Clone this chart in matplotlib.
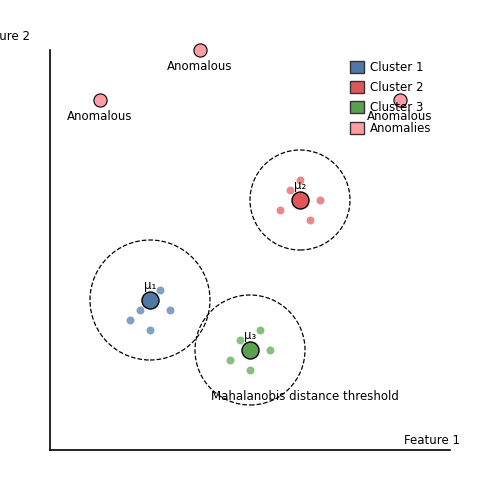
import matplotlib.pyplot as plt
from matplotlib.patches import Circle, Patch

# cluster members
c1_x = [2.2, 1.8, 2.4, 1.6, 2.0]
c1_y = [3.2, 2.8, 2.8, 2.6, 2.4]
c2_x = [5.0, 4.8, 5.4, 4.6, 5.2]
c2_y = [5.4, 5.2, 5.0, 4.8, 4.6]
c3_x = [4.2, 3.8, 4.4, 3.6, 4.0]
c3_y = [2.4, 2.2, 2.0, 1.8, 1.6]

# centroids and threshold radii
cent_x = [2.0, 5.0, 4.0]
cent_y = [3.0, 5.0, 2.0]
radii = [1.2, 1.0, 1.1]
cent_labels = ["μ₁", "μ₂", "μ₃"]

# anomalies
anom_x = [3.0, 1.0, 7.0]
anom_y = [8.0, 7.0, 7.0]

colors = ["#4e79a7", "#e15759", "#59a14f"]
anom_color = "#ff9da7"
fs = 8.5

fig = plt.figure(figsize=(5, 5), dpi=100)
ax = fig.add_axes([0.1, 0.1, 0.8, 0.8])

for xs, ys, c in zip([c1_x, c2_x, c3_x], [c1_y, c2_y, c3_y], colors):
    ax.scatter(xs, ys, s=33, color=c, alpha=0.7, linewidths=0, zorder=2)

for i in range(3):
    ax.scatter(cent_x[i], cent_y[i], s=150, color=colors[i], edgecolors="black", linewidths=1, zorder=3)
    ax.text(cent_x[i], cent_y[i] + 0.15, cent_labels[i], ha="center", va="bottom", fontsize=fs, zorder=4)
    ax.add_patch(Circle((cent_x[i], cent_y[i]), radii[i], fill=False, ls="--", lw=0.9, color="black"))

ax.scatter(anom_x, anom_y, s=90, color=anom_color, edgecolors="black", linewidths=0.8, zorder=3, clip_on=False)
for x, y in zip(anom_x, anom_y):
    ax.text(x, y - 0.32, "Anomalous", ha="center", va="center", fontsize=fs)

ax.text(5.1, 1.08, "Mahalanobis distance threshold", ha="center", va="center", fontsize=fs)

ax.set_xlim(0, 8)
ax.set_ylim(0, 8)
ax.set_xticks([])
ax.set_yticks([])
ax.spines["top"].set_visible(False)
ax.spines["right"].set_visible(False)
ax.spines["left"].set_linewidth(1.2)
ax.spines["bottom"].set_linewidth(1.2)

ax.text(1.025, 0.007, "Feature 1", ha="right", va="bottom", fontsize=fs, transform=ax.transAxes)
ax.text(-0.05, 1.035, "Feature 2", ha="right", va="center", fontsize=fs, transform=ax.transAxes)

handles = [Patch(facecolor=colors[0], edgecolor="#333333", label="Cluster 1"),
           Patch(facecolor=colors[1], edgecolor="#333333", label="Cluster 2"),
           Patch(facecolor=colors[2], edgecolor="#333333", label="Cluster 3"),
           Patch(facecolor=anom_color, edgecolor="#333333", label="Anomalies")]
ax.legend(handles=handles, loc="upper right", frameon=False, fontsize=fs,
          handlelength=1.2, handleheight=1.2, handletextpad=0.5, labelspacing=0.62,
          bbox_to_anchor=(0.98, 1.0))

fig.savefig("out.png", dpi=100)
